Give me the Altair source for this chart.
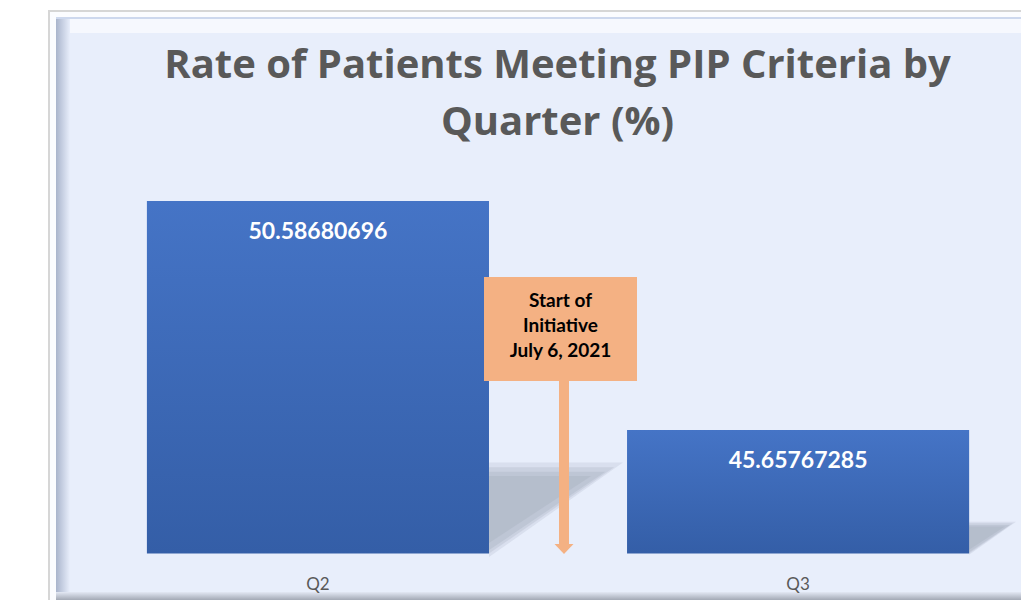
import altair as alt
import pandas as pd

# ---- data ----
quarters = ["Q2", "Q3"]
rates = [50.58680696, 45.65767285]
axis_floor = 43.0
title_lines = ["Rate of Patients Meeting PIP Criteria by", "Quarter (%)"]
note_lines = ["Start of", "Initiative", "July 6, 2021"]

df = pd.DataFrame({"quarter": quarters, "rate": rates, "base": [axis_floor] * len(quarters)})

W, H = 973, 590
Y_LO, Y_HI = 42, 54.7
PX_PER_UNIT = H / (Y_HI - Y_LO)
FONT = "Lato"
TITLE_FONT = "Open Sans"
GREY = "#595959"
ORANGE = "#F4B183"

xscale = alt.Scale(domain=quarters, paddingInner=0.2875, paddingOuter=0.157, align=0.656)
yscale = alt.Scale(domain=[Y_LO, Y_HI], zero=False)

base = alt.Chart(df)

bars = base.mark_bar(
    color=alt.Gradient(
        gradient="linear",
        stops=[alt.GradientStop(color="#4574c6", offset=0),
               alt.GradientStop(color="#345ea7", offset=1)],
        x1=0, x2=0, y1=0, y2=1,
    )
).encode(
    x=alt.X("quarter:N", scale=xscale, axis=None),
    y=alt.Y("rate:Q", scale=yscale, axis=None),
    y2="base:Q",
)

# soft perspective shadow behind each bar (size follows bar height)
shadow_shapes = [
    ("M0,0.01L0,-0.258L0.38,-0.258Z", 0.22),
    ("M0,0L0,-0.245L0.355,-0.245Z", 0.28),
    ("M0,-0.01L0,-0.232L0.33,-0.232Z", 0.32),
    ("M0,-0.03L0,-0.22L0.29,-0.22Z", 0.35),
]
shadows = []
for path, op in shadow_shapes:
    shadows.append(
        base.transform_calculate(
            sz=f"4*pow({PX_PER_UNIT}*(datum.rate-datum.base),2)"
        ).mark_point(
            shape=path, filled=True, opacity=op, strokeWidth=0, color="#a6aebe",
        ).encode(
            x=alt.X("quarter:N", scale=xscale, axis=None, bandPosition=1),
            y=alt.Y("base:Q", scale=yscale, axis=None),
            size=alt.Size("sz:Q", scale=None),
        )
    )

values = base.mark_text(
    font=FONT, fontSize=23, fontWeight="bold", color="white", baseline="alphabetic", dy=38
).encode(
    x=alt.X("quarter:N", scale=xscale, axis=None),
    y=alt.Y("rate:Q", scale=yscale, axis=None),
    text=alt.Text("rate:Q", format=".8f"),
)

xlabels = base.mark_text(
    font=FONT, fontSize=17, color=GREY, baseline="alphabetic"
).encode(
    x=alt.X("quarter:N", scale=xscale, axis=None),
    y=alt.value(580),
    text="quarter:N",
)


def text_lines(lines, ys, x, **style):
    tdf = pd.DataFrame({"t": lines, "i": list(range(len(lines)))})
    out = []
    for i, yy in enumerate(ys):
        out.append(
            alt.Chart(tdf).transform_filter(f"datum.i == {i}").mark_text(
                baseline="alphabetic", **style
            ).encode(x=alt.value(x), y=alt.value(yy), text="t:N")
        )
    return out


titles = text_lines(title_lines, [68, 125], 509.5,
                    font=TITLE_FONT, fontSize=40, fontWeight="bold", color=GREY)
notes = text_lines(note_lines, [296.7, 321.7, 346.7], 512.5,
                   font=FONT, fontSize=19, fontWeight="bold", color="black")

# frame / bevel decoration
bev = pd.DataFrame({"k": [0]})


def deco_rect(x, x2, y, y2, color):
    return alt.Chart(bev).mark_rect(color=color).encode(
        x=alt.value(x), x2=alt.value(x2), y=alt.value(y), y2=alt.value(y2))


outer_top = deco_rect(0, W, 0, 2, "#d6d6d6")
outer_left = deco_rect(0, 2, 0, H, "#d6d6d6")
white_top = deco_rect(2, W, 2, 7, "#fbfcff")
white_left = deco_rect(2, 8, 2, H, "#fbfcff")
bevel_top = deco_rect(8, W, 7, 23, "#f6f8fe")
bevel_line = deco_rect(8, W, 7, 9, "#cdd8ee")
bevel_left = alt.Chart(bev).mark_rect(
    color=alt.Gradient(gradient="linear",
                       stops=[alt.GradientStop(color="#a9b4cc", offset=0),
                              alt.GradientStop(color="#e8eefb", offset=1)],
                       x1=0, x2=1, y1=0, y2=0)
).encode(x=alt.value(8), x2=alt.value(22), y=alt.value(9), y2=alt.value(H))
bevel_bottom = alt.Chart(bev).mark_rect(
    color=alt.Gradient(gradient="linear",
                       stops=[alt.GradientStop(color="#e3e8f4", offset=0),
                              alt.GradientStop(color="#a3a9b5", offset=1)],
                       x1=0, x2=0, y1=0, y2=1)
).encode(x=alt.value(8), x2=alt.value(W), y=alt.value(582), y2=alt.value(H))

# annotation box with arrow
note_box = deco_rect(436, 589, 267, 371, ORANGE)
shaft = deco_rect(511, 521, 371, 535, ORANGE)
head = alt.Chart(bev).mark_point(
    shape="M-1,-0.53L1,-0.53L0,0.53Z", filled=True, color=ORANGE, opacity=1, size=361
).encode(x=alt.value(516), y=alt.value(539))

chart = alt.layer(
    outer_top, outer_left, white_top, white_left, bevel_top, bevel_line, bevel_left, bevel_bottom,
    *titles, *shadows, bars, values, xlabels, note_box, shaft, head, *notes
).properties(
    width=W, height=H,
    padding={"left": 40, "top": 2, "right": 0, "bottom": 0},
    autosize=alt.AutoSizeParams(type="none"),
    background="white",
).configure_view(
    fill="#e8eefb", stroke=None
)

chart.save("out.html", embed_options={"renderer": "svg", "actions": False})
